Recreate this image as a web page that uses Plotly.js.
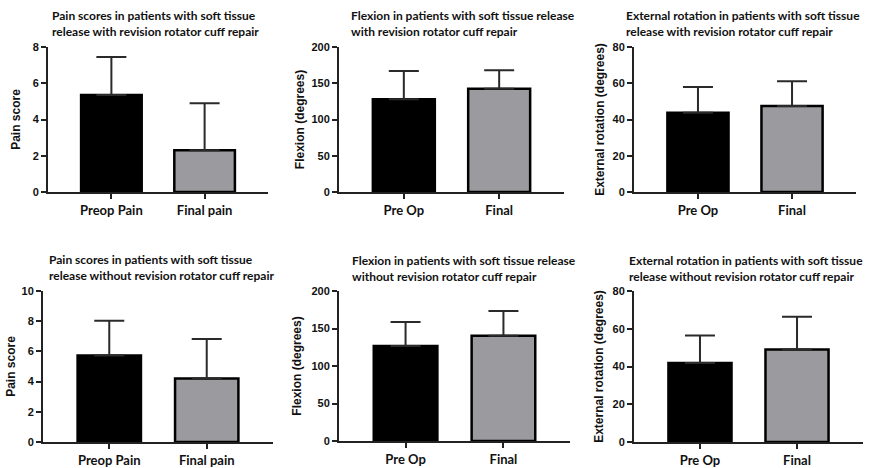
<!DOCTYPE html>
<html>
<head>
<meta charset="utf-8">
<script src="https://cdn.plot.ly/plotly-3.0.1.min.js"></script>
<style>html,body{margin:0;padding:0;background:#fff;}#chart{width:885px;height:468px;}</style>
</head>
<body>
<div id="chart"></div>
<script>
// ---- data ----
const painCategories = ['Preop Pain', 'Final pain'];
const romCategories = ['Pre Op', 'Final'];

const painWithMean = [5.35, 2.3];
const painWithSD = [2.1, 2.6];
const flexWithMean = [128, 142.5];
const flexWithSD = [39, 25.5];
const erWithMean = [43.7, 47.5];
const erWithSD = [14.3, 13.6];

const painWithoutMean = [5.73, 4.2];
const painWithoutSD = [2.3, 2.62];
const flexWithoutMean = [126.7, 140.4];
const flexWithoutSD = [32, 33];
const erWithoutMean = [41.8, 49];
const erWithoutSD = [14.6, 17.4];

const panelTitles = [
  'Pain scores in patients with soft tissue<br>release with revision rotator cuff repair',
  'Flexion in patients with soft tissue release<br>with revision rotator cuff repair',
  'External rotation in patients with soft tissue<br>release with revision rotator cuff repair',
  'Pain scores in patients with soft tissue<br>release without revision rotator cuff repair',
  'Flexion in patients with soft tissue release<br>without revision rotator cuff repair',
  'External rotation in patients with soft tissue<br>release without revision rotator cuff repair'
];
const yTitles = ['Pain score', 'Flexion (degrees)', 'External rotation (degrees)',
                 'Pain score', 'Flexion (degrees)', 'External rotation (degrees)'];
const yMax = [8, 200, 80, 10, 200, 80];
const yStep = [2, 50, 20, 2, 50, 20];

// ---- layout geometry (pixels) ----
const W = 885, H = 468;
const panels = [
  {cats: painCategories, mean: painWithMean, sd: painWithSD, x0: 48, x1: 268, yTop: 47, yBot: 192, tx: 50, ty: 23, so: 9},
  {cats: romCategories, mean: flexWithMean, sd: flexWithSD, x0: 339, x1: 564, yTop: 47, yBot: 192, tx: 349, ty: 23, so: 4},
  {cats: romCategories, mean: erWithMean, sd: erWithSD, x0: 634, x1: 856, yTop: 47, yBot: 192, tx: 624, ty: 23, so: 5},
  {cats: painCategories, mean: painWithoutMean, sd: painWithoutSD, x0: 43, x1: 273, yTop: 291, yBot: 442, tx: 47, ty: 267, so: 3},
  {cats: romCategories, mean: flexWithoutMean, sd: flexWithoutSD, x0: 339, x1: 570, yTop: 291, yBot: 441, tx: 350, ty: 268, so: 7},
  {cats: romCategories, mean: erWithoutMean, sd: erWithoutSD, x0: 634, x1: 863, yTop: 291, yBot: 442, tx: 627, ty: 268, so: 6}
];

const axisColor = '#222';
const tickFont = {family: 'Liberation Sans, Arial, sans-serif', size: 11, color: '#111', weight: 700};
const catFont = {family: 'Lato, sans-serif', size: 13, color: '#111', weight: 700};
const titleFont = {family: 'Lato, sans-serif', size: 12, color: '#111', weight: 700};

const data = [];
const layout = {
  width: W, height: H,
  margin: {l: 0, r: 0, t: 0, b: 0},
  paper_bgcolor: '#fff', plot_bgcolor: '#fff',
  showlegend: false,
  annotations: []
};

panels.forEach((p, i) => {
  const n = i === 0 ? '' : String(i + 1);
  data.push({
    type: 'bar',
    x: p.cats,
    y: p.mean,
    xaxis: 'x' + n,
    yaxis: 'y' + n,
    width: 0.65,
    marker: {color: ['#000000', '#9b9b9f'], line: {color: '#000', width: 2.5}},
    error_y: {type: 'data', symmetric: false, array: p.sd, arrayminus: [0, 0],
              color: '#2a2a2a', thickness: 2, width: 15},
    hoverinfo: 'x+y'
  });
  layout['xaxis' + n] = {
    domain: [p.x0 / W, p.x1 / W],
    anchor: 'y' + n,
    type: 'category',
    range: [-0.68, 1.68],
    showline: true, linecolor: axisColor, linewidth: 2,
    ticks: 'outside', ticklen: 5, tickwidth: 2, tickcolor: axisColor,
    showgrid: false, zeroline: false,
    tickfont: catFont,
    fixedrange: true
  };
  layout['yaxis' + n] = {
    domain: [(H - p.yBot) / H, (H - p.yTop) / H],
    anchor: 'x' + n,
    range: [0, yMax[i]],
    dtick: yStep[i], tick0: 0,
    showline: true, linecolor: axisColor, linewidth: 2,
    ticks: 'outside', ticklen: 5, tickwidth: 2, tickcolor: axisColor,
    showgrid: false, zeroline: false,
    tickfont: tickFont,
    title: {text: yTitles[i], font: {family: 'Liberation Sans, Arial, sans-serif', size: 12, color: '#111', weight: 700}, standoff: p.so},
    fixedrange: true
  };
  layout.annotations.push({
    text: panelTitles[i],
    xref: 'paper', yref: 'paper',
    x: p.tx / W, y: (H - p.ty) / H,
    xanchor: 'left', yanchor: 'middle', align: 'left',
    showarrow: false,
    font: titleFont
  });
});

Plotly.newPlot('chart', data, layout, {displayModeBar: false, staticPlot: true});
</script>
</body>
</html>
